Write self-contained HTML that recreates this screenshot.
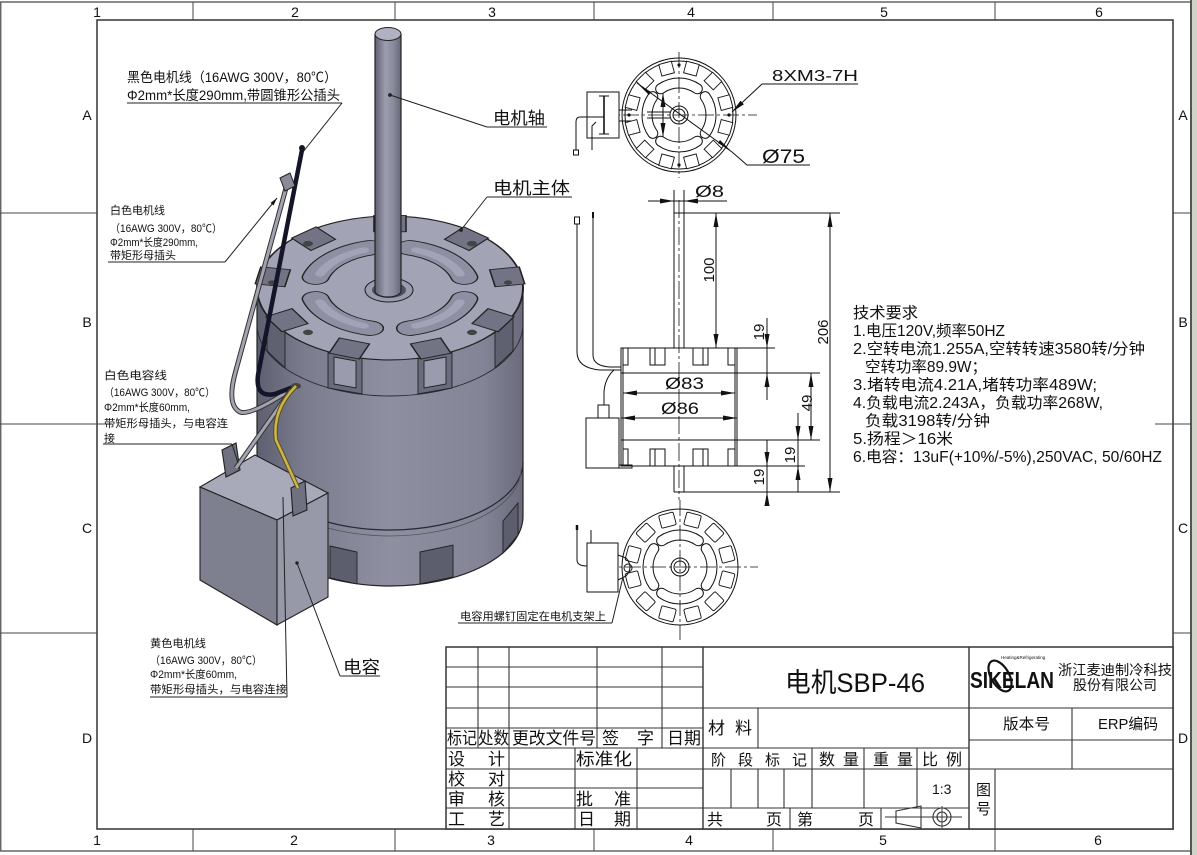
<!DOCTYPE html>
<html><head><meta charset="utf-8"><style>
html,body{margin:0;padding:0;background:#fff;}
svg{display:block;}
text{font-family:"Liberation Sans","Noto Sans CJK SC",sans-serif;fill:#111;}
</style></head><body>
<svg width="1197" height="855" viewBox="0 0 1197 855" xmlns="http://www.w3.org/2000/svg">
<defs>
<marker id="a" viewBox="0 0 14 5" refX="14" refY="2.5" markerWidth="14" markerHeight="5" markerUnits="userSpaceOnUse" orient="auto-start-reverse"><path d="M0,0L14,2.5L0,5Z" fill="#111"/></marker>
<marker id="s" viewBox="0 0 8 4" refX="8" refY="2" markerWidth="8" markerHeight="4" markerUnits="userSpaceOnUse" orient="auto-start-reverse"><path d="M0,0L8,2L0,4Z" fill="#111"/></marker>
<linearGradient id="gb" x1="0" x2="1" y1="0" y2="0">
<stop offset="0" stop-color="#5e5f70"/><stop offset="0.18" stop-color="#7b7c8e"/><stop offset="0.5" stop-color="#8e8fa1"/><stop offset="0.85" stop-color="#838496"/><stop offset="1" stop-color="#6a6b7c"/>
</linearGradient>
<linearGradient id="gs" x1="0" x2="1" y1="0" y2="0">
<stop offset="0" stop-color="#5f6071"/><stop offset="0.4" stop-color="#9c9dae"/><stop offset="0.7" stop-color="#8a8b9c"/><stop offset="1" stop-color="#676879"/>
</linearGradient>
<rect id="nt" x="42" y="-6.5" width="12" height="13" fill="#fff" stroke="#111" stroke-width="0.9"/>
<rect id="nb" x="42" y="-7.5" width="13" height="15" rx="1.5" fill="#fff" stroke="#111" stroke-width="0.9"/>
<g id="kd">
<path d="M-18.35,-26.21 A32,32 0 0 1 18.35,-26.21" fill="none" stroke="#111" stroke-width="11" stroke-linecap="round"/>
<path d="M-18.35,-26.21 A32,32 0 0 1 18.35,-26.21" fill="none" stroke="#fff" stroke-width="9" stroke-linecap="round"/>
</g>
<g id="k3">
<path d="M74.4,19.9 A77,77 0 0 1 19.9,74.4" fill="none" stroke="#222" stroke-width="28" stroke-linecap="round"/>
<path d="M74.4,19.9 A77,77 0 0 1 19.9,74.4" fill="none" stroke="#8e8fa2" stroke-width="25" stroke-linecap="round"/>
<path d="M70,26 A75,75 0 0 1 26,70" fill="none" stroke="#a2a3b6" stroke-width="10" stroke-linecap="round"/>
</g>
</defs>

<!-- outer border -->
<rect x="1191" y="0" width="6" height="855" fill="#cfd4c6"/>
<g stroke="#666" stroke-width="1.5" fill="none">
<line x1="0" y1="2" x2="1191" y2="2"/>
<line x1="0" y1="851" x2="1191" y2="851"/>
<line x1="0.7" y1="2" x2="0.7" y2="851"/>
<line x1="1191" y1="0" x2="1191" y2="855" stroke="#555" stroke-width="2"/>
</g>
<!-- inner frame -->
<rect x="97" y="20" width="1076" height="809" fill="none" stroke="#333" stroke-width="1.5"/>
<g stroke="#444" stroke-width="1">
<line x1="193" y1="2" x2="193" y2="20"/><line x1="395" y1="2" x2="395" y2="20"/><line x1="594" y1="2" x2="594" y2="20"/><line x1="773" y1="2" x2="773" y2="20"/><line x1="995" y1="2" x2="995" y2="20"/>
<line x1="193" y1="829" x2="193" y2="851"/><line x1="395" y1="829" x2="395" y2="851"/><line x1="594" y1="829" x2="594" y2="851"/><line x1="773" y1="829" x2="773" y2="851"/><line x1="995" y1="829" x2="995" y2="851"/>
<line x1="0" y1="213" x2="97" y2="213"/><line x1="0" y1="424" x2="112" y2="424"/><line x1="0" y1="633" x2="97" y2="633"/>
<line x1="1173" y1="213" x2="1191" y2="213"/><line x1="1155" y1="424" x2="1191" y2="424"/><line x1="1173" y1="633" x2="1191" y2="633"/>
</g>
<g font-size="14" text-anchor="middle" style="fill:#333">
<text x="97" y="17">1</text><text x="295" y="17">2</text><text x="492" y="17">3</text><text x="691" y="17">4</text><text x="884" y="17">5</text><text x="1099" y="17">6</text>
<text x="97" y="845">1</text><text x="294" y="845">2</text><text x="491" y="845">3</text><text x="689" y="845">4</text><text x="883" y="845">5</text><text x="1098" y="845">6</text>
<text x="87" y="120">A</text><text x="87" y="327">B</text><text x="87" y="533">C</text><text x="87" y="743">D</text>
<text x="1183" y="120">A</text><text x="1183" y="327">B</text><text x="1183" y="533">C</text><text x="1183" y="743">D</text>
</g>

<!-- ============ 3D MOTOR ============ -->
<path d="M257,288 V516 A133,70 0 0 0 523,516 V288 Z" fill="url(#gb)" stroke="#222" stroke-width="1.2"/>
<g fill="none" stroke="#2a2a35">
<path d="M257,324 A133,72 0 0 0 523,324" stroke-width="0.9"/>
<path d="M257,462 A133,68 0 0 0 523,462" stroke-width="1.3"/>
<path d="M259,469 A131,67 0 0 0 521,469" stroke="#555" stroke-width="0.8"/>
</g>
<!-- bottom notches -->
<g fill="#5c5d6d" stroke="#222" stroke-width="0.9">
<polygon points="330,546 357,552 357,584 330,578"/>
<polygon points="420,552 453,545 453,577 420,584"/>
<polygon points="503,521 518,503 518,535 503,553"/>
</g>
<!-- side notches -->
<g stroke="#222" stroke-width="0.9">
<polygon points="418,358 452,352 452,388 418,394" fill="#6a6b7c"/>
<polygon points="424,361 446,357 446,384 424,388" fill="#9a9bac"/>
<polygon points="328,352 362,358 362,394 328,388" fill="#6a6b7c"/>
<polygon points="334,357 356,361 356,388 334,384" fill="#9a9bac"/>
<polygon points="495,332 513,315 513,351 495,368" fill="#5f6070"/>
<polygon points="267,315 285,332 285,368 267,351" fill="#5f6070"/>
</g>
<!-- top face -->
<g transform="translate(390 288) scale(1 0.541)">
<circle r="133" fill="#a2a3b5" stroke="#222" stroke-width="2"/>
<g fill="#727385" stroke="#222" stroke-width="1.6">
<rect x="104" y="-16" width="30" height="32" transform="rotate(30)"/>
<rect x="104" y="-16" width="30" height="32" transform="rotate(70)"/>
<rect x="104" y="-16" width="30" height="32" transform="rotate(110)"/>
<rect x="104" y="-16" width="30" height="32" transform="rotate(150)"/>
<rect x="104" y="-16" width="30" height="32" transform="rotate(190)"/>
<rect x="104" y="-16" width="30" height="32" transform="rotate(230)"/>
<rect x="104" y="-16" width="30" height="32" transform="rotate(270)"/>
<rect x="104" y="-16" width="30" height="32" transform="rotate(310)"/>
<rect x="104" y="-16" width="30" height="32" transform="rotate(350)"/>
</g>
<use href="#k3"/>
<use href="#k3" transform="rotate(90)"/>
<use href="#k3" transform="rotate(180)"/>
<use href="#k3" transform="rotate(270)"/>
<g fill="#444">
<circle cx="82" cy="-82" r="5"/><circle cx="-82" cy="-82" r="5"/><circle cx="-82" cy="82" r="5"/><circle cx="82" cy="82" r="5"/><circle cx="118" cy="-10" r="4"/><circle cx="-118" cy="-10" r="4"/>
</g>
</g>
<!-- hub + shaft -->
<ellipse cx="389" cy="290" rx="24" ry="12" fill="#9a9bad" stroke="#222"/>
<ellipse cx="389" cy="290" rx="17" ry="8" fill="#4e4f60"/>
<path d="M375,34 V291 A13,6 0 0 0 401,291 V34 Z" fill="url(#gs)" stroke="#222" stroke-width="1.2"/>
<ellipse cx="388" cy="34" rx="13" ry="6.5" fill="#b0b1c2" stroke="#222"/>
<!-- wires -->
<path d="M286,188 L236,370 Q226,405 240,412 Q250,416 290,390" fill="none" stroke="#333" stroke-width="5"/>
<path d="M286,188 L236,370 Q226,405 240,412 Q250,416 290,390" fill="none" stroke="#a2a2b0" stroke-width="3"/>
<path d="M302,150 L258,375 Q255,398 275,394 L296,386" fill="none" stroke="#15152a" stroke-width="4.5" stroke-linecap="round"/>
<circle cx="302" cy="148" r="3" fill="#15152a"/>
<polygon points="280,178 290,173 295,186 285,191" fill="#8a8a98" stroke="#222"/>
<ellipse cx="296" cy="386" rx="5" ry="3" fill="#444"/>
<!-- capacitor -->
<g stroke="#222" stroke-width="1.1">
<polygon points="200,487 255,455 328,493 277,520" fill="#a9aab9"/>
<polygon points="200,487 277,520 277,625 200,580" fill="#7e7f8f"/>
<polygon points="277,520 328,493 328,597 277,625" fill="#9798a8"/>
<polygon points="222,450 236,443 240,470 226,477" fill="#6f7080"/>
<polygon points="291,488 305,481 307,510 293,516" fill="#6f7080"/>
</g>
<path d="M291,390 L236,468" fill="none" stroke="#333" stroke-width="5"/>
<path d="M291,390 L236,468" fill="none" stroke="#a2a2b0" stroke-width="3"/>
<path d="M296,386 Q272,410 276,440 L298,488" fill="none" stroke="#5a5020" stroke-width="4.5"/>
<path d="M296,386 Q272,410 276,440 L298,488" fill="none" stroke="#cdb64c" stroke-width="2.5"/>

<!-- ============ annotations ============ -->
<g stroke="#222" stroke-width="1" fill="none">
<line x1="127" y1="103" x2="342" y2="103"/><line x1="342" y1="103" x2="303" y2="152"/>
<line x1="108" y1="262" x2="225" y2="262"/><line x1="225" y1="262" x2="277" y2="198" marker-end="url(#s)"/>
<line x1="103" y1="444" x2="232" y2="444"/><line x1="232" y1="444" x2="238" y2="463"/>
<line x1="150" y1="697" x2="287" y2="697"/><line x1="287" y1="697" x2="283" y2="497"/>
<line x1="340" y1="676" x2="380" y2="676"/><line x1="340" y1="676" x2="297" y2="563"/>
<circle cx="297" cy="563" r="1.2" fill="#222"/>
<line x1="390" y1="95" x2="487" y2="127"/><line x1="487" y1="127" x2="547" y2="127"/>
<circle cx="390" cy="95" r="1.4" fill="#222"/>
<line x1="461" y1="230" x2="487" y2="197"/><line x1="487" y1="197" x2="572" y2="197"/>
<circle cx="461" cy="230" r="1.4" fill="#222"/>
<line x1="458" y1="623" x2="612" y2="623"/><line x1="612" y1="623" x2="623" y2="577"/>
</g>
<text x="127" y="82" font-size="13.5" textLength="210" lengthAdjust="spacingAndGlyphs">黑色电机线（16AWG 300V，80℃）</text>
<text x="127" y="100" font-size="13.5" textLength="213" lengthAdjust="spacingAndGlyphs">Φ2mm*长度290mm,带圆锥形公插头</text>
<g font-size="11">
<text x="110" y="214" textLength="55" lengthAdjust="spacingAndGlyphs">白色电机线</text>
<text x="110" y="232" textLength="112" lengthAdjust="spacingAndGlyphs">（16AWG 300V，80℃）</text>
<text x="110" y="246" textLength="88" lengthAdjust="spacingAndGlyphs">Φ2mm*长度290mm,</text>
<text x="110" y="259" textLength="66" lengthAdjust="spacingAndGlyphs">带矩形母插头</text>
<text x="104" y="379" textLength="63" lengthAdjust="spacingAndGlyphs">白色电容线</text>
<text x="104" y="396" textLength="111" lengthAdjust="spacingAndGlyphs">（16AWG 300V，80℃）</text>
<text x="104" y="411" textLength="86" lengthAdjust="spacingAndGlyphs">Φ2mm*长度60mm,</text>
<text x="104" y="427" textLength="124" lengthAdjust="spacingAndGlyphs">带矩形母插头，与电容连</text>
<text x="104" y="442">接</text>
<text x="150" y="647" textLength="56" lengthAdjust="spacingAndGlyphs">黄色电机线</text>
<text x="150" y="664" textLength="112" lengthAdjust="spacingAndGlyphs">（16AWG 300V，80℃）</text>
<text x="150" y="678" textLength="87" lengthAdjust="spacingAndGlyphs">Φ2mm*长度60mm,</text>
<text x="150" y="693" textLength="137" lengthAdjust="spacingAndGlyphs">带矩形母插头，与电容连接</text>
<text x="460" y="620" textLength="146" lengthAdjust="spacingAndGlyphs">电容用螺钉固定在电机支架上</text>
</g>
<text x="343" y="673" font-size="17" textLength="37" lengthAdjust="spacingAndGlyphs">电容</text>
<text x="493" y="124" font-size="17" textLength="52" lengthAdjust="spacingAndGlyphs">电机轴</text>
<text x="493" y="194" font-size="17" textLength="77" lengthAdjust="spacingAndGlyphs">电机主体</text>

<!-- ============ TOP VIEW ============ -->
<g stroke="#111" stroke-width="1" fill="none">
<circle cx="679" cy="115" r="57" fill="#fff"/>
<circle cx="679" cy="115" r="54"/>
</g>
<use href="#nt" transform="translate(679 115) rotate(15)"/><use href="#nt" transform="translate(679 115) rotate(45)"/><use href="#nt" transform="translate(679 115) rotate(75)"/><use href="#nt" transform="translate(679 115) rotate(105)"/><use href="#nt" transform="translate(679 115) rotate(135)"/><use href="#nt" transform="translate(679 115) rotate(165)"/><use href="#nt" transform="translate(679 115) rotate(195)"/><use href="#nt" transform="translate(679 115) rotate(225)"/><use href="#nt" transform="translate(679 115) rotate(255)"/><use href="#nt" transform="translate(679 115) rotate(285)"/><use href="#nt" transform="translate(679 115) rotate(315)"/><use href="#nt" transform="translate(679 115) rotate(345)"/>
<use href="#kd" transform="translate(679 115)"/><use href="#kd" transform="translate(679 115) rotate(90)"/><use href="#kd" transform="translate(679 115) rotate(180)"/><use href="#kd" transform="translate(679 115) rotate(270)"/>
<g stroke="#111" stroke-width="1" fill="none">
<circle cx="679" cy="115" r="9"/><circle cx="679" cy="115" r="6"/>
<line x1="598" y1="115" x2="757" y2="115" stroke-dasharray="16 3 3 3" stroke-width="0.8"/>
<line x1="679" y1="52" x2="679" y2="178" stroke-dasharray="16 3 3 3" stroke-width="0.8"/>
<rect x="587" y="92" width="32" height="46" fill="#fff"/>
<line x1="604" y1="96" x2="604" y2="134" stroke-width="1.6"/><line x1="599" y1="96" x2="609" y2="96"/><line x1="599" y1="134" x2="609" y2="134"/>
<line x1="619" y1="110" x2="632" y2="110"/><line x1="619" y1="121" x2="632" y2="121"/>
<line x1="647" y1="112" x2="670" y2="112"/><line x1="647" y1="118" x2="670" y2="118"/>
<path d="M604,117 L580,117 Q576,117 576,122 L576,150"/>
<rect x="573.5" y="150" width="5" height="5"/>
<path d="M596,122 L592,126 L592,150"/>
<line x1="663" y1="93" x2="663" y2="137" marker-start="url(#a)" marker-end="url(#a)"/>
<polyline points="858,84 762,84 732,112" marker-end="url(#a)"/>
<polyline points="637,83 732,152 747,165 810,165" />
</g>
<path d="M732,152 L718,143 L720,140 Z" fill="#111"/>
<path d="M637,83 L651,92 L649,95 Z" fill="#111"/>
<g fill="#111">
<circle cx="729" cy="115" r="1.6"/><circle cx="629" cy="115" r="1.6"/><circle cx="679" cy="65" r="1.6"/><circle cx="679" cy="165" r="1.6"/>
</g>
<text x="772" y="81" font-size="16" textLength="86" lengthAdjust="spacingAndGlyphs">8XM3-7H</text>
<text x="762" y="163" font-size="19" textLength="43" lengthAdjust="spacingAndGlyphs">Ø75</text>

<!-- ============ SIDE VIEW ============ -->
<g stroke="#111" stroke-width="1" fill="none">
<rect x="621" y="348" width="116" height="118" fill="#fff"/>
<line x1="623" y1="348" x2="623" y2="466"/><line x1="735" y1="348" x2="735" y2="466"/>
<line x1="621" y1="373" x2="820" y2="373"/>
<line x1="621" y1="440" x2="820" y2="440"/>
<line x1="737" y1="348" x2="775" y2="348"/>
<line x1="737" y1="466" x2="805" y2="466"/>
<line x1="674" y1="190" x2="674" y2="348"/><line x1="684" y1="190" x2="684" y2="348"/>
<line x1="674" y1="466" x2="674" y2="492"/><line x1="684" y1="466" x2="684" y2="492"/>
<line x1="674" y1="213" x2="840" y2="213"/>
<line x1="674" y1="492" x2="840" y2="492"/>
<line x1="679" y1="200" x2="679" y2="500" stroke-dasharray="18 3 3 3" stroke-width="0.8"/>
<rect x="623" y="348" width="5" height="17"/>
<rect x="650" y="348" width="15" height="17"/><line x1="655" y1="348" x2="655" y2="365"/>
<rect x="693" y="348" width="15" height="17"/><line x1="703" y1="348" x2="703" y2="365"/>
<rect x="728" y="348" width="7" height="17"/>
<rect x="623" y="449" width="5" height="17"/>
<rect x="650" y="449" width="15" height="17"/><line x1="655" y1="449" x2="655" y2="466"/>
<rect x="693" y="449" width="15" height="17"/><line x1="703" y1="449" x2="703" y2="466"/>
<rect x="728" y="449" width="7" height="17"/>
<rect x="586" y="418" width="33" height="50" fill="#fff"/>
<rect x="598" y="405" width="11" height="13" fill="#fff"/>
<path d="M619,465 L632,465 L632,468 L619,468"/>
<path d="M577,224 L577,352 Q577,368 600,370 L621,370"/>
<rect x="574.5" y="217" width="5" height="7"/>
<path d="M593,218 L593,355 Q593,366 610,367 L621,367"/>
<line x1="593" y1="212" x2="593" y2="218" stroke-width="2"/>
<path d="M614,370 Q605,378 604,392 L604,405"/>
<line x1="648" y1="201" x2="674" y2="201" marker-end="url(#a)"/>
<line x1="684" y1="201" x2="727" y2="201" marker-start="url(#a)"/>
<line x1="674" y1="201" x2="684" y2="201"/>
<line x1="716" y1="213" x2="716" y2="348" marker-start="url(#a)" marker-end="url(#a)"/>
<line x1="830" y1="213" x2="830" y2="492" marker-start="url(#a)" marker-end="url(#a)"/>
<line x1="767" y1="318" x2="767" y2="348" marker-end="url(#a)"/>
<line x1="767" y1="348" x2="767" y2="373"/>
<line x1="767" y1="373" x2="767" y2="400" marker-start="url(#a)"/>
<line x1="811" y1="373" x2="811" y2="440" marker-start="url(#a)" marker-end="url(#a)"/>
<line x1="798" y1="413" x2="798" y2="440" marker-end="url(#a)"/>
<line x1="798" y1="440" x2="798" y2="466"/>
<line x1="798" y1="466" x2="798" y2="492" marker-start="url(#a)"/>
<line x1="767" y1="440" x2="767" y2="466" marker-end="url(#a)"/>
<line x1="767" y1="466" x2="767" y2="492"/>
<line x1="767" y1="492" x2="767" y2="505" marker-start="url(#a)"/>
<line x1="623" y1="393" x2="735" y2="393" marker-start="url(#a)" marker-end="url(#a)"/>
<line x1="621" y1="418" x2="737" y2="418" marker-start="url(#a)" marker-end="url(#a)"/>
</g>
<text x="695" y="197" font-size="17" textLength="29" lengthAdjust="spacingAndGlyphs">Ø8</text>
<text x="665" y="389" font-size="17" textLength="39" lengthAdjust="spacingAndGlyphs">Ø83</text>
<text x="661" y="414" font-size="17" textLength="38" lengthAdjust="spacingAndGlyphs">Ø86</text>
<g font-size="15" text-anchor="middle">
<text transform="translate(714 270) rotate(-90)">100</text>
<text transform="translate(828 332) rotate(-90)">206</text>
<text transform="translate(764 332) rotate(-90)">19</text>
<text transform="translate(812 403) rotate(-90)">49</text>
<text transform="translate(795 455) rotate(-90)">19</text>
<text transform="translate(764 477) rotate(-90)">19</text>
</g>

<!-- ============ BOTTOM VIEW ============ -->
<circle cx="680" cy="567" r="58" fill="#fff" stroke="#111" stroke-width="1"/>
<use href="#nb" transform="translate(680 567) rotate(15)"/><use href="#nb" transform="translate(680 567) rotate(45)"/><use href="#nb" transform="translate(680 567) rotate(75)"/><use href="#nb" transform="translate(680 567) rotate(105)"/><use href="#nb" transform="translate(680 567) rotate(135)"/><use href="#nb" transform="translate(680 567) rotate(165)"/><use href="#nb" transform="translate(680 567) rotate(195)"/><use href="#nb" transform="translate(680 567) rotate(225)"/><use href="#nb" transform="translate(680 567) rotate(255)"/><use href="#nb" transform="translate(680 567) rotate(285)"/><use href="#nb" transform="translate(680 567) rotate(315)"/><use href="#nb" transform="translate(680 567) rotate(345)"/>
<use href="#kd" transform="translate(680 567)"/><use href="#kd" transform="translate(680 567) rotate(90)"/><use href="#kd" transform="translate(680 567) rotate(180)"/><use href="#kd" transform="translate(680 567) rotate(270)"/>
<g stroke="#111" stroke-width="1" fill="none">
<circle cx="680" cy="567" r="9"/><circle cx="680" cy="567" r="6"/>
<line x1="600" y1="567" x2="758" y2="567" stroke-dasharray="16 3 3 3" stroke-width="0.8"/>
<line x1="680" y1="500" x2="680" y2="640" stroke-dasharray="16 3 3 3" stroke-width="0.8"/>
<rect x="587" y="543" width="31" height="49" fill="#fff"/>
<path d="M618,555 L626,558 Q634,567 626,576 L618,580"/>
<circle cx="628" cy="568" r="4"/>
<path d="M577,529 L577,560 Q577,566 587,566"/>
<line x1="577" y1="525" x2="577" y2="530" stroke-width="2.5"/>
<line x1="591" y1="530" x2="591" y2="543"/>
</g>

<!-- ============ TECH REQUIREMENTS ============ -->
<g font-size="15.5">
<text x="853" y="318" textLength="65" lengthAdjust="spacingAndGlyphs">技术要求</text>
<text x="853" y="336" textLength="152" lengthAdjust="spacingAndGlyphs">1.电压120V,频率50HZ</text>
<text x="853" y="354" textLength="292" lengthAdjust="spacingAndGlyphs">2.空转电流1.255A,空转转速3580转/分钟</text>
<text x="865" y="372" textLength="122" lengthAdjust="spacingAndGlyphs">空转功率89.9W；</text>
<text x="853" y="390" textLength="244" lengthAdjust="spacingAndGlyphs">3.堵转电流4.21A,堵转功率489W;</text>
<text x="853" y="408" textLength="250" lengthAdjust="spacingAndGlyphs">4.负载电流2.243A，负载功率268W,</text>
<text x="865" y="426" textLength="125" lengthAdjust="spacingAndGlyphs">负载3198转/分钟</text>
<text x="853" y="444" textLength="100" lengthAdjust="spacingAndGlyphs">5.扬程＞16米</text>
<text x="853" y="462" textLength="309" lengthAdjust="spacingAndGlyphs">6.电容：13uF(+10%/-5%),250VAC, 50/60HZ</text>
</g>

<!-- ============ TITLE BLOCK ============ -->
<g stroke="#333" stroke-width="1.1" fill="none">
<rect x="446" y="647" width="727" height="182" fill="#fff" stroke-width="1.5"/>
<line x1="446" y1="667" x2="703" y2="667"/><line x1="446" y1="687" x2="703" y2="687"/>
<line x1="446" y1="708" x2="1173" y2="708"/>
<line x1="446" y1="728" x2="703" y2="728"/>
<line x1="446" y1="748" x2="969" y2="748"/>
<line x1="969" y1="740" x2="1173" y2="740"/>
<line x1="446" y1="769" x2="1173" y2="769"/>
<line x1="446" y1="788" x2="703" y2="788"/>
<line x1="446" y1="808" x2="969" y2="808"/>
<line x1="478" y1="647" x2="478" y2="748"/>
<line x1="509" y1="647" x2="509" y2="829"/>
<line x1="597" y1="647" x2="597" y2="748"/>
<line x1="662" y1="647" x2="662" y2="748"/>
<line x1="575" y1="748" x2="575" y2="829"/>
<line x1="637" y1="748" x2="637" y2="829"/>
<line x1="703" y1="647" x2="703" y2="829" stroke-width="1.4"/>
<line x1="758" y1="708" x2="758" y2="748"/>
<line x1="731" y1="769" x2="731" y2="808"/><line x1="758" y1="769" x2="758" y2="808"/><line x1="784" y1="769" x2="784" y2="808"/>
<line x1="812" y1="748" x2="812" y2="808"/>
<line x1="864" y1="748" x2="864" y2="808"/><line x1="917" y1="748" x2="917" y2="808"/>
<line x1="790" y1="808" x2="790" y2="829"/><line x1="881" y1="808" x2="881" y2="829"/>
<line x1="969" y1="647" x2="969" y2="829" stroke-width="1.4"/>
<line x1="1072" y1="708" x2="1072" y2="769"/>
<line x1="995" y1="769" x2="995" y2="829"/>
<polygon points="896,811 921,806 921,828 896,823"/>
<line x1="885" y1="817" x2="962" y2="817" stroke-width="0.9"/>
<circle cx="942" cy="817" r="9"/><circle cx="942" cy="817" r="5"/>
<line x1="942" y1="806" x2="942" y2="828" stroke-width="0.9"/>
</g>
<g font-size="17">
<text x="447" y="744" textLength="30" lengthAdjust="spacingAndGlyphs">标记</text>
<text x="478" y="744" textLength="31" lengthAdjust="spacingAndGlyphs">处数</text>
<text x="512" y="744" textLength="84" lengthAdjust="spacingAndGlyphs">更改文件号</text>
<text x="602" y="744">签</text><text x="637" y="744">字</text>
<text x="667" y="744" textLength="34" lengthAdjust="spacingAndGlyphs">日期</text>
<text x="708" y="734">材</text><text x="735" y="734">料</text>
<text x="448" y="765">设</text><text x="488" y="765">计</text>
<text x="448" y="785">校</text><text x="488" y="785">对</text>
<text x="448" y="805">审</text><text x="488" y="805">核</text>
<text x="448" y="825">工</text><text x="488" y="825">艺</text>
<text x="576" y="765" textLength="56" lengthAdjust="spacingAndGlyphs">标准化</text>
<text x="576" y="805">批</text><text x="614" y="805">准</text>
<text x="578" y="825">日</text><text x="614" y="825">期</text>
</g>
<g font-size="15">
<text x="711" y="765">阶</text><text x="738" y="765">段</text><text x="765" y="765">标</text><text x="792" y="765">记</text>
</g>
<g font-size="16">
<text x="819" y="765">数</text><text x="843" y="765">量</text>
<text x="873" y="765">重</text><text x="897" y="765">量</text>
<text x="922" y="765">比</text><text x="946" y="765">例</text>
<text x="707" y="825">共</text><text x="766" y="825">页</text><text x="797" y="825">第</text><text x="858" y="825">页</text>
</g>
<text x="932" y="794" font-size="14">1:3</text>
<text x="976" y="795" font-size="15">图</text>
<text x="976" y="814" font-size="15">号</text>
<text x="1003" y="729" font-size="15" textLength="47" lengthAdjust="spacingAndGlyphs">版本号</text>
<text x="1098" y="729" font-size="15" textLength="60" lengthAdjust="spacingAndGlyphs">ERP编码</text>
<text x="785" y="692" font-size="27" textLength="140" lengthAdjust="spacingAndGlyphs">电机SBP-46</text>
<text x="970" y="688" font-size="23" font-weight="bold" textLength="84" lengthAdjust="spacingAndGlyphs">SIKELAN</text>
<ellipse cx="1000" cy="676" rx="9" ry="17" transform="rotate(-30 1000 676)" fill="none" stroke="#111" stroke-width="2.2"/>
<text x="1001" y="659" font-size="4.5">Heating&amp;Refrigerating</text>
<text x="1058" y="675" font-size="14" textLength="114" lengthAdjust="spacingAndGlyphs">浙江麦迪制冷科技</text>
<text x="1073" y="690" font-size="14" textLength="84" lengthAdjust="spacingAndGlyphs">股份有限公司</text>
</svg>
</body></html>
